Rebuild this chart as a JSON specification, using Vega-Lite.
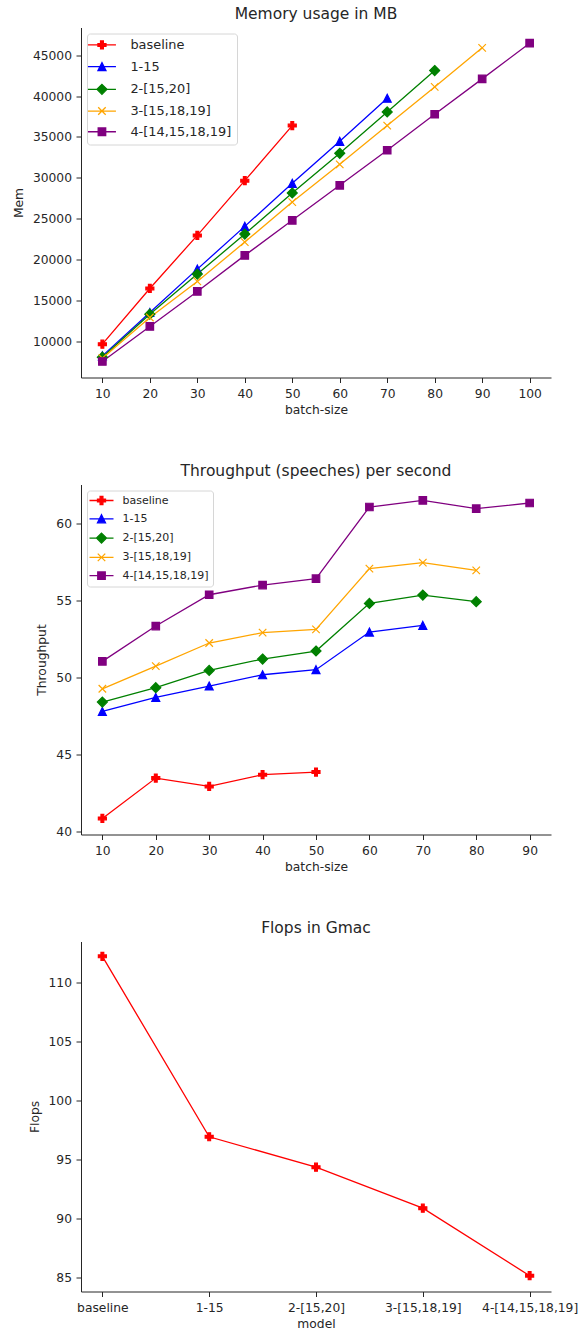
{
  "$schema": "https://vega.github.io/schema/vega-lite/v6.json",
  "background": "white",
  "padding": {"left": 12, "top": 6.5, "right": 0, "bottom": 0},
  "spacing": 107,
  "bounds": "flush",
  "config": {
    "view": {"stroke": null},
    "font": "DejaVu Sans",
    "axis": {"grid": false, "domainColor": "#262626", "tickColor": "#262626", "labelColor": "#262626", "titleColor": "#262626", "labelFont": "DejaVu Sans", "titleFont": "DejaVu Sans", "labelFontSize": 12.3, "titleFontSize": 12.3, "titleFontWeight": "normal", "tickSize": 5, "labelPadding": 4.5, "domainWidth": 1, "tickWidth": 1, "titlePadding": 7, "labelFlush": false, "labelOverlap": false},
    "axisX": {"titlePadding": 4, "labelAngle": 0},
    "title": {"fontSize": 15.5, "fontWeight": "normal", "color": "#262626", "offset": 5, "baseline": "alphabetic", "anchor": "middle", "font": "DejaVu Sans"}
  },
  "resolve": {"scale": {"color": "independent", "shape": "independent", "stroke": "independent"}, "legend": {"color": "independent", "shape": "independent", "stroke": "independent"}},
  "datasets": {
    "mem": [
      {"batch": 10, "model": "baseline", "mem": 9630},
      {"batch": 20, "model": "baseline", "mem": 16450},
      {"batch": 30, "model": "baseline", "mem": 22950},
      {"batch": 40, "model": "baseline", "mem": 29650},
      {"batch": 50, "model": "baseline", "mem": 36390},
      {"batch": 10, "model": "1-15", "mem": 8200},
      {"batch": 20, "model": "1-15", "mem": 13510},
      {"batch": 30, "model": "1-15", "mem": 18820},
      {"batch": 40, "model": "1-15", "mem": 24050},
      {"batch": 50, "model": "1-15", "mem": 29320},
      {"batch": 60, "model": "1-15", "mem": 34470},
      {"batch": 70, "model": "1-15", "mem": 39740},
      {"batch": 10, "model": "2-[15,20]", "mem": 8040},
      {"batch": 20, "model": "2-[15,20]", "mem": 13300},
      {"batch": 30, "model": "2-[15,20]", "mem": 18210},
      {"batch": 40, "model": "2-[15,20]", "mem": 23110},
      {"batch": 50, "model": "2-[15,20]", "mem": 28140},
      {"batch": 60, "model": "2-[15,20]", "mem": 33000},
      {"batch": 70, "model": "2-[15,20]", "mem": 38060},
      {"batch": 80, "model": "2-[15,20]", "mem": 43130},
      {"batch": 10, "model": "3-[15,18,19]", "mem": 7920},
      {"batch": 20, "model": "3-[15,18,19]", "mem": 12900},
      {"batch": 30, "model": "3-[15,18,19]", "mem": 17310},
      {"batch": 40, "model": "3-[15,18,19]", "mem": 22130},
      {"batch": 50, "model": "3-[15,18,19]", "mem": 27030},
      {"batch": 60, "model": "3-[15,18,19]", "mem": 31650},
      {"batch": 70, "model": "3-[15,18,19]", "mem": 36390},
      {"batch": 80, "model": "3-[15,18,19]", "mem": 41130},
      {"batch": 90, "model": "3-[15,18,19]", "mem": 45910},
      {"batch": 10, "model": "4-[14,15,18,19]", "mem": 7510},
      {"batch": 20, "model": "4-[14,15,18,19]", "mem": 11800},
      {"batch": 30, "model": "4-[14,15,18,19]", "mem": 16090},
      {"batch": 40, "model": "4-[14,15,18,19]", "mem": 20500},
      {"batch": 50, "model": "4-[14,15,18,19]", "mem": 24790},
      {"batch": 60, "model": "4-[14,15,18,19]", "mem": 29080},
      {"batch": 70, "model": "4-[14,15,18,19]", "mem": 33370},
      {"batch": 80, "model": "4-[14,15,18,19]", "mem": 37780},
      {"batch": 90, "model": "4-[14,15,18,19]", "mem": 42110},
      {"batch": 100, "model": "4-[14,15,18,19]", "mem": 46480}
    ],
    "tp": [
      {"batch": 10, "model": "baseline", "tp": 40.84},
      {"batch": 20, "model": "baseline", "tp": 43.46},
      {"batch": 30, "model": "baseline", "tp": 42.92},
      {"batch": 40, "model": "baseline", "tp": 43.68},
      {"batch": 50, "model": "baseline", "tp": 43.85},
      {"batch": 10, "model": "1-15", "tp": 47.78},
      {"batch": 20, "model": "1-15", "tp": 48.69},
      {"batch": 30, "model": "1-15", "tp": 49.43},
      {"batch": 40, "model": "1-15", "tp": 50.16},
      {"batch": 50, "model": "1-15", "tp": 50.49},
      {"batch": 60, "model": "1-15", "tp": 52.93},
      {"batch": 70, "model": "1-15", "tp": 53.36},
      {"batch": 10, "model": "2-[15,20]", "tp": 48.39},
      {"batch": 20, "model": "2-[15,20]", "tp": 49.32},
      {"batch": 30, "model": "2-[15,20]", "tp": 50.44},
      {"batch": 40, "model": "2-[15,20]", "tp": 51.18},
      {"batch": 50, "model": "2-[15,20]", "tp": 51.70},
      {"batch": 60, "model": "2-[15,20]", "tp": 54.79},
      {"batch": 70, "model": "2-[15,20]", "tp": 55.33},
      {"batch": 80, "model": "2-[15,20]", "tp": 54.90},
      {"batch": 10, "model": "3-[15,18,19]", "tp": 49.25},
      {"batch": 20, "model": "3-[15,18,19]", "tp": 50.72},
      {"batch": 30, "model": "3-[15,18,19]", "tp": 52.22},
      {"batch": 40, "model": "3-[15,18,19]", "tp": 52.89},
      {"batch": 50, "model": "3-[15,18,19]", "tp": 53.10},
      {"batch": 60, "model": "3-[15,18,19]", "tp": 57.04},
      {"batch": 70, "model": "3-[15,18,19]", "tp": 57.43},
      {"batch": 80, "model": "3-[15,18,19]", "tp": 56.93},
      {"batch": 10, "model": "4-[14,15,18,19]", "tp": 51.03},
      {"batch": 20, "model": "4-[14,15,18,19]", "tp": 53.32},
      {"batch": 30, "model": "4-[14,15,18,19]", "tp": 55.35},
      {"batch": 40, "model": "4-[14,15,18,19]", "tp": 55.98},
      {"batch": 50, "model": "4-[14,15,18,19]", "tp": 56.39},
      {"batch": 60, "model": "4-[14,15,18,19]", "tp": 61.04},
      {"batch": 70, "model": "4-[14,15,18,19]", "tp": 61.47},
      {"batch": 80, "model": "4-[14,15,18,19]", "tp": 60.93},
      {"batch": 90, "model": "4-[14,15,18,19]", "tp": 61.30}
    ],
    "flops": [
      {"model": "baseline", "flops": 112.24},
      {"model": "1-15", "flops": 96.93},
      {"model": "2-[15,20]", "flops": 94.35},
      {"model": "3-[15,18,19]", "flops": 90.87},
      {"model": "4-[14,15,18,19]", "flops": 85.14}
    ]
  },
  "vconcat": [
    {
      "width": 470,
      "height": 350,
      "title": "Memory usage in MB",
      "data": {"name": "mem"},
      "resolve": {"scale": {"color": "independent", "shape": "independent", "stroke": "independent"}},
      "encoding": {
        "x": {"field": "batch", "type": "quantitative", "scale": {"domain": [5.5, 104.5], "nice": false, "zero": false}, "axis": {"values": [10, 20, 30, 40, 50, 60, 70, 80, 90, 100], "title": "batch-size"}},
        "y": {"field": "mem", "type": "quantitative", "scale": {"domain": [5550, 48400], "nice": false, "zero": false}, "axis": {"values": [10000, 15000, 20000, 25000, 30000, 35000, 40000, 45000], "format": "d", "title": "Mem"}}
      },
      "layer": [
        {"mark": {"type": "line", "strokeWidth": 1.3},
          "encoding": {
            "color": {"field": "model", "type": "nominal", "scale": {"domain": ["baseline", "1-15", "2-[15,20]", "3-[15,18,19]", "4-[14,15,18,19]"], "range": ["#ff0000", "#0000ff", "#008000", "#ffa500", "#800080"]}, "legend": null}
          }
        },
        {"mark": {"type": "point", "filled": true, "size": 100, "strokeWidth": 1.2, "opacity": 1},
          "encoding": {
            "color": {"field": "model", "type": "nominal", "scale": {"domain": ["baseline", "1-15", "2-[15,20]", "3-[15,18,19]", "4-[14,15,18,19]"], "range": ["#ff0000", "#0000ff", "#008000", "#ffa500", "#800080"]}, "legend": null},
            "shape": {"field": "model", "type": "nominal", "scale": {"domain": ["baseline", "1-15", "2-[15,20]", "3-[15,18,19]", "4-[14,15,18,19]"], "range": ["M-0.28,-0.8H0.28V-0.28H0.8V0.28H0.28V0.8H-0.28V0.28H-0.8V-0.28H-0.28Z", "M0,-0.8L0.8,0.8L-0.8,0.8Z", "M0,-1L1,0L0,1L-1,0Z", "M-0.75,-0.75L0.75,0.75M-0.75,0.75L0.75,-0.75", "M-0.75,-0.75H0.75V0.75H-0.75Z"]}, "legend": null},
            "stroke": {"field": "model", "type": "nominal", "scale": {"domain": ["baseline", "1-15", "2-[15,20]", "3-[15,18,19]", "4-[14,15,18,19]"], "range": ["#ff0000", "#0000ff", "#008000", "#ffa500", "#800080"]}, "legend": null}
          }
        },
        {"transform": [{"filter": "false"}],
          "mark": {"type": "point", "filled": true, "size": 100, "strokeWidth": 1.3, "opacity": 1},
          "encoding": {
            "color": {"field": "model", "type": "nominal", "scale": {"domain": ["baseline", "1-15", "2-[15,20]", "3-[15,18,19]", "4-[14,15,18,19]"], "range": ["#ff0000", "#0000ff", "#008000", "#ffa500", "#800080"]},
              "legend": {"title": null, "orient": "top-left", "offset": 6, "padding": 5, "symbolSize": 100, "symbolStrokeWidth": 1.3, "symbolOffset": 3.5, "labelOffset": 22, "rowPadding": 6.7, "labelFontSize": 12.9, "labelFont": "DejaVu Sans", "labelColor": "#262626", "strokeColor": "#d6d6d6", "fillColor": "rgba(255,255,255,0.8)", "cornerRadius": 3}},
            "shape": {"field": "model", "type": "nominal", "scale": {"domain": ["baseline", "1-15", "2-[15,20]", "3-[15,18,19]", "4-[14,15,18,19]"], "range": ["M-2.8,0H2.8M-0.28,-0.8H0.28V-0.28H0.8V0.28H0.28V0.8H-0.28V0.28H-0.8V-0.28H-0.28Z", "M-2.8,0H2.8M0,-0.8L0.8,0.8L-0.8,0.8Z", "M-2.8,0H2.8M0,-1L1,0L0,1L-1,0Z", "M-2.8,0H2.8M-0.75,-0.75L0.75,0.75M-0.75,0.75L0.75,-0.75", "M-2.8,0H2.8M-0.75,-0.75H0.75V0.75H-0.75Z"]},
              "legend": {"title": null, "orient": "top-left", "offset": 6, "padding": 5, "symbolSize": 100, "symbolStrokeWidth": 1.3, "symbolOffset": 3.5, "labelOffset": 22, "rowPadding": 6.7, "labelFontSize": 12.9, "labelFont": "DejaVu Sans", "labelColor": "#262626", "strokeColor": "#d6d6d6", "fillColor": "rgba(255,255,255,0.8)", "cornerRadius": 3}},
            "stroke": {"field": "model", "type": "nominal", "scale": {"domain": ["baseline", "1-15", "2-[15,20]", "3-[15,18,19]", "4-[14,15,18,19]"], "range": ["#ff0000", "#0000ff", "#008000", "#ffa500", "#800080"]},
              "legend": {"title": null, "orient": "top-left", "offset": 6, "padding": 5, "symbolSize": 100, "symbolStrokeWidth": 1.3, "symbolOffset": 3.5, "labelOffset": 22, "rowPadding": 6.7, "labelFontSize": 12.9, "labelFont": "DejaVu Sans", "labelColor": "#262626", "strokeColor": "#d6d6d6", "fillColor": "rgba(255,255,255,0.8)", "cornerRadius": 3}}
          }
        }
      ]
    },
    {
      "width": 470,
      "height": 350,
      "title": "Throughput (speeches) per second",
      "data": {"name": "tp"},
      "resolve": {"scale": {"color": "independent", "shape": "independent", "stroke": "independent"}},
      "encoding": {
        "x": {"field": "batch", "type": "quantitative", "scale": {"domain": [6, 94], "nice": false, "zero": false}, "axis": {"values": [10, 20, 30, 40, 50, 60, 70, 80, 90], "title": "batch-size"}},
        "y": {"field": "tp", "type": "quantitative", "scale": {"domain": [39.8, 62.5], "nice": false, "zero": false}, "axis": {"values": [40, 45, 50, 55, 60], "format": "d", "title": "Throughput"}}
      },
      "layer": [
        {"mark": {"type": "line", "strokeWidth": 1.3},
          "encoding": {
            "color": {"field": "model", "type": "nominal", "scale": {"domain": ["baseline", "1-15", "2-[15,20]", "3-[15,18,19]", "4-[14,15,18,19]"], "range": ["#ff0000", "#0000ff", "#008000", "#ffa500", "#800080"]}, "legend": null}
          }
        },
        {"mark": {"type": "point", "filled": true, "size": 100, "strokeWidth": 1.2, "opacity": 1},
          "encoding": {
            "color": {"field": "model", "type": "nominal", "scale": {"domain": ["baseline", "1-15", "2-[15,20]", "3-[15,18,19]", "4-[14,15,18,19]"], "range": ["#ff0000", "#0000ff", "#008000", "#ffa500", "#800080"]}, "legend": null},
            "shape": {"field": "model", "type": "nominal", "scale": {"domain": ["baseline", "1-15", "2-[15,20]", "3-[15,18,19]", "4-[14,15,18,19]"], "range": ["M-0.28,-0.8H0.28V-0.28H0.8V0.28H0.28V0.8H-0.28V0.28H-0.8V-0.28H-0.28Z", "M0,-0.8L0.8,0.8L-0.8,0.8Z", "M0,-1L1,0L0,1L-1,0Z", "M-0.75,-0.75L0.75,0.75M-0.75,0.75L0.75,-0.75", "M-0.75,-0.75H0.75V0.75H-0.75Z"]}, "legend": null},
            "stroke": {"field": "model", "type": "nominal", "scale": {"domain": ["baseline", "1-15", "2-[15,20]", "3-[15,18,19]", "4-[14,15,18,19]"], "range": ["#ff0000", "#0000ff", "#008000", "#ffa500", "#800080"]}, "legend": null}
          }
        },
        {"transform": [{"filter": "false"}],
          "mark": {"type": "point", "filled": true, "size": 100, "strokeWidth": 1.3, "opacity": 1},
          "encoding": {
            "color": {"field": "model", "type": "nominal", "scale": {"domain": ["baseline", "1-15", "2-[15,20]", "3-[15,18,19]", "4-[14,15,18,19]"], "range": ["#ff0000", "#0000ff", "#008000", "#ffa500", "#800080"]},
              "legend": {"title": null, "orient": "top-left", "offset": 6, "padding": 4, "symbolSize": 100, "symbolStrokeWidth": 1.3, "symbolOffset": 4.5, "labelOffset": 15, "rowPadding": 4.3, "labelFontSize": 11, "labelFont": "DejaVu Sans", "labelColor": "#262626", "strokeColor": "#d6d6d6", "fillColor": "rgba(255,255,255,0.8)", "cornerRadius": 3}},
            "shape": {"field": "model", "type": "nominal", "scale": {"domain": ["baseline", "1-15", "2-[15,20]", "3-[15,18,19]", "4-[14,15,18,19]"], "range": ["M-2.4,0H2.4M-0.28,-0.8H0.28V-0.28H0.8V0.28H0.28V0.8H-0.28V0.28H-0.8V-0.28H-0.28Z", "M-2.4,0H2.4M0,-0.8L0.8,0.8L-0.8,0.8Z", "M-2.4,0H2.4M0,-1L1,0L0,1L-1,0Z", "M-2.4,0H2.4M-0.75,-0.75L0.75,0.75M-0.75,0.75L0.75,-0.75", "M-2.4,0H2.4M-0.75,-0.75H0.75V0.75H-0.75Z"]},
              "legend": {"title": null, "orient": "top-left", "offset": 6, "padding": 4, "symbolSize": 100, "symbolStrokeWidth": 1.3, "symbolOffset": 4.5, "labelOffset": 15, "rowPadding": 4.3, "labelFontSize": 11, "labelFont": "DejaVu Sans", "labelColor": "#262626", "strokeColor": "#d6d6d6", "fillColor": "rgba(255,255,255,0.8)", "cornerRadius": 3}},
            "stroke": {"field": "model", "type": "nominal", "scale": {"domain": ["baseline", "1-15", "2-[15,20]", "3-[15,18,19]", "4-[14,15,18,19]"], "range": ["#ff0000", "#0000ff", "#008000", "#ffa500", "#800080"]},
              "legend": {"title": null, "orient": "top-left", "offset": 6, "padding": 4, "symbolSize": 100, "symbolStrokeWidth": 1.3, "symbolOffset": 4.5, "labelOffset": 15, "rowPadding": 4.3, "labelFontSize": 11, "labelFont": "DejaVu Sans", "labelColor": "#262626", "strokeColor": "#d6d6d6", "fillColor": "rgba(255,255,255,0.8)", "cornerRadius": 3}}
          }
        }
      ]
    },
    {
      "width": 470,
      "height": 350,
      "title": "Flops in Gmac",
      "data": {"name": "flops"},
      "encoding": {
        "x": {"field": "model", "type": "nominal", "sort": ["baseline", "1-15", "2-[15,20]", "3-[15,18,19]", "4-[14,15,18,19]"], "scale": {"type": "point", "padding": 0.2, "domain": ["baseline", "1-15", "2-[15,20]", "3-[15,18,19]", "4-[14,15,18,19]"]}, "axis": {"labelAngle": 0, "title": "model"}},
        "y": {"field": "flops", "type": "quantitative", "scale": {"domain": [83.8, 113.5], "nice": false, "zero": false}, "axis": {"values": [85, 90, 95, 100, 105, 110], "format": "d", "title": "Flops"}}
      },
      "layer": [
        {"mark": {"type": "line", "color": "#ff0000", "strokeWidth": 1.3}},
        {"mark": {"type": "point", "filled": true, "size": 100, "shape": "M-0.28,-0.8H0.28V-0.28H0.8V0.28H0.28V0.8H-0.28V0.28H-0.8V-0.28H-0.28Z", "color": "#ff0000", "stroke": "#ff0000", "strokeWidth": 1.2, "opacity": 1}}
      ]
    }
  ]
}
